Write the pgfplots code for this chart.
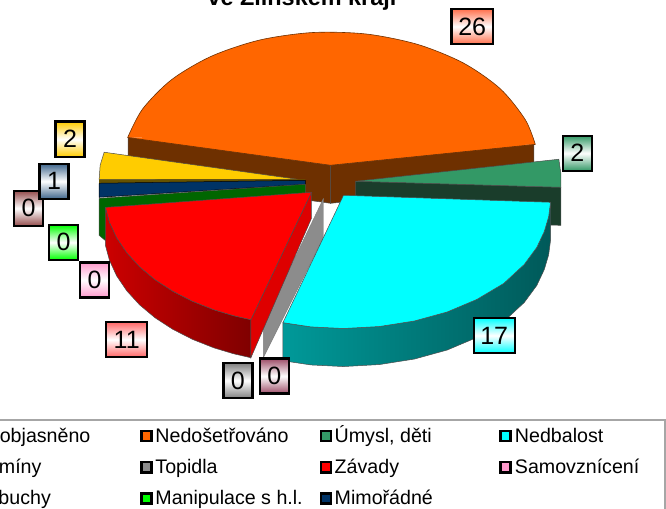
\documentclass[border=0pt]{standalone}
\usepackage{fontspec}
\setmainfont{Liberation Sans}
\usepackage{pgfplots}
\pgfplotsset{compat=1.18}

\definecolor{orng}{HTML}{FF6600}
\definecolor{orngside}{HTML}{6E3000}
\definecolor{grn}{HTML}{339966}
\definecolor{grnside}{HTML}{1A3D2B}
\definecolor{cyn}{HTML}{00FFFF}
\definecolor{gry}{HTML}{8C8C8C}
\definecolor{redtop}{HTML}{FF0000}
\definecolor{pnk}{HTML}{FF99CC}
\definecolor{lime}{HTML}{00FF00}
\definecolor{nvy}{HTML}{003366}
\definecolor{ylw}{HTML}{FFCC00}
\definecolor{dkgrn}{HTML}{006600}

\tikzset{
  lbl/.style={draw=black, line width=2.4pt, top color=#1, bottom color=#1, middle color=white,
    font=\fontsize{25}{28}\selectfont, inner sep=0pt, minimum height=35pt, minimum width=29pt},
  wide/.style={minimum width=41pt},
  leg/.style={font=\fontsize{19.6}{22}\selectfont, anchor=base west, inner sep=0pt},
  legr/.style={font=\fontsize{19.6}{22}\selectfont, anchor=base east, inner sep=0pt},
  key/.style={only marks, mark=square*, mark size=5pt, mark options={draw=black, line width=2.6pt, fill=#1}},
}

\begin{document}
\begin{tikzpicture}
\begin{axis}[
    hide axis,
    scale only axis,
    width=666pt,
    height=508pt,
    xmin=0, xmax=666,
    ymin=0, ymax=508,
    y dir=reverse,
    clip=true,
]
% coordinates in pixels, y going down
% orange slice (26), sides first
\addplot[draw=black!70, fill=orngside, line width=.5pt] coordinates {(128,137) (330,165) (330,203) (128,175) (128,137)};
\addplot[draw=black!70, fill=orngside, line width=.5pt] coordinates {(330,165) (533,144) (533,182) (330,203) (330,165)};
\addplot[draw=orngside, fill=orng, line width=.6pt, smooth] coordinates {
  (127.5,137.3) (142.4,108.8) (171.4,79.5) (211.2,56.1) (259.2,40) (312,32.5)
  (366,34) (417.5,44.5) (463,63.1) (499.6,88.7) (524.5,119.5) (534.5,144.2)};
\addplot[draw=none, fill=orng] coordinates {(135,135) (330,70) (525,140) (330,162)};
\addplot[draw=orngside, fill=orng, line width=.6pt] coordinates {(127.5,137.3) (330,165) (534.5,144.2)};

% green slice (2)
\addplot[draw=black!70, fill=grnside, line width=.5pt] coordinates {(355,181) (560,187) (560,225) (355,219) (355,181)};
\addplot[draw=black!70, fill=grn, line width=.5pt] coordinates {(355,181) (558,159) (560,173) (560,187) (355,181)};

% yellow, navy, dark green slices (2, 1, 0)
\addplot[draw=black!70, fill=ylw, line width=.5pt] coordinates {(297,179) (104,152) (100,165) (99,179) (297,179)};
\addplot[draw=none, fill=black!60!ylw] coordinates {(99,179) (305,179) (305,181) (99,183)};
\addplot[draw=black, fill=nvy, line width=.5pt] coordinates {(99,183) (305,180) (305,184) (99,197) (99,183)};
\addplot[draw=black!70, fill=dkgrn, line width=.5pt] coordinates {(99,198) (305,184) (305,200) (105,240) (99,235) (99,198)};

% grey zero slice
\addplot[draw=black!50, fill=gry, line width=.4pt] coordinates {(323,198) (323,237) (263,357) (263,323) (323,198)};

% red slice (11)
\addplot[draw=black!70, left color=red!80!black, right color=red!50!black, line width=.5pt] coordinates {
  (105.3,207.1) (109.3,221.9) (116.5,237.5) (126.6,252.4) (139.4,266.4) (154.8,279.3) (172.5,290.8)
  (192.3,300.9) (213.8,309.4) (233.5,315.3) (250.5,319.2)
  (250.5,357.2) (233.5,353.3) (213.8,347.4) (192.3,338.9) (172.5,328.8) (154.8,317.3) (139.4,304.4)
  (126.6,290.4) (116.5,275.5) (109.3,259.9) (105.3,245.1) (105.3,207.1)};
\addplot[draw=black!70, fill=red!87!black, line width=.5pt] coordinates {(311,192) (250.5,319.2) (250.5,357.2) (311,218) (311,192)};
\addplot[draw=black!70, fill=redtop, line width=.5pt] coordinates {
  (311,192) (105.3,207.1) (109.3,221.9) (116.5,237.5) (126.6,252.4) (139.4,266.4) (154.8,279.3)
  (172.5,290.8) (192.3,300.9) (213.8,309.4) (233.5,315.3) (250.5,319.2) (311,192)};

% cyan slice (17)
\addplot[draw=black!70, left color=cyn!60!black, right color=cyn!35!black, line width=.5pt] coordinates {
  (282.5,322.2) (310.6,326.4) (343,328) (378.9,326) (413.8,320.5) (446.5,311.5) (476.1,299) (503,283)
  (523.5,264) (536,247) (543.5,231) (547.8,216.5) (549.7,202)
  (549.7,240) (547.8,254.5) (543.5,269) (536,285) (523.5,302) (503,321) (476.1,337)
  (446.5,349.5) (413.8,358.5) (378.9,364) (343,366) (310.6,364.4) (282.5,360.2) (282.5,322.2)};
\addplot[draw=black!70, fill=cyn, line width=.5pt] coordinates {
  (343,195) (282.5,322.2) (310.6,326.4) (343,328) (378.9,326) (413.8,320.5) (446.5,311.5) (476.1,299)
  (503,283) (523.5,264) (536,247) (543.5,231) (547.8,216.5) (549.7,202) (343,195)};

% data labels
\node[lbl=red!50!orng!70!white, wide] at (axis cs:471.5,26.5) {26};
\node[lbl=grn] at (axis cs:576.5,153) {2};
\node[lbl=cyn, wide] at (axis cs:493.5,335) {17};
\node[lbl=red!60!white, wide] at (axis cs:126.5,339) {11};
\node[lbl=gray] at (axis cs:237.5,380) {0};
\node[lbl=purple!60!black!70!white] at (axis cs:274,375.5) {0};
\node[lbl=pnk] at (axis cs:94.5,279.5) {0};
\node[lbl=lime] at (axis cs:63.5,242) {0};
\node[lbl=red!40!black!70!white] at (axis cs:28.5,208) {0};
\node[lbl=nvy!75!white] at (axis cs:54,181) {1};
\node[lbl=ylw] at (axis cs:70,139) {2};

% title, cut by the top edge
\node[font=\fontsize{23.4}{26}\selectfont\bfseries, anchor=base, inner sep=0pt] at (axis cs:301.5,5) {ve Zlínském kraji};

% legend frame and keys
\addplot[draw=black!35, line width=2pt] coordinates {(0,419) (664,419) (664,508)};
\addplot[key=orng] coordinates {(146.3,435.5)};
\addplot[key=grn] coordinates {(325.5,435.5)};
\addplot[key=cyn] coordinates {(505,435.5)};
\addplot[key=gry] coordinates {(146.3,466.5)};
\addplot[key=red] coordinates {(325.5,466.5)};
\addplot[key=pnk] coordinates {(505,466.5)};
\addplot[key=lime] coordinates {(146.3,497.5)};
\addplot[key=nvy] coordinates {(325.5,497.5)};

\node[legr] at (axis cs:90.5,442) {Neobjasněno};
\node[leg] at (axis cs:155,442) {Nedošetřováno};
\node[leg] at (axis cs:334,442) {Úmysl, děti};
\node[leg] at (axis cs:514,442) {Nedbalost};
\node[legr] at (axis cs:41.6,472.5) {Komíny};
\node[leg] at (axis cs:155,472.5) {Topidla};
\node[leg] at (axis cs:334,472.5) {Závady};
\node[leg] at (axis cs:514,472.5) {Samovznícení};
\node[legr] at (axis cs:51,504) {Výbuchy};
\node[leg] at (axis cs:155,504) {Manipulace s h.l.};
\node[leg] at (axis cs:334,504) {Mimořádné};
\end{axis}
\end{tikzpicture}
\end{document}
